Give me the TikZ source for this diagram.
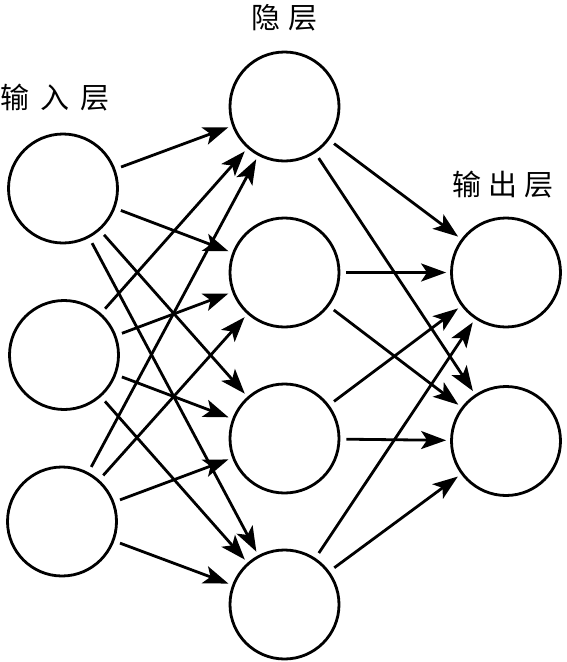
\documentclass[tikz,border=0pt]{standalone}
\usepackage{fontspec}
\newfontfamily\cjk{Noto Sans CJK SC}
\usetikzlibrary{arrows.meta}
\begin{document}
\begin{tikzpicture}[x=1pt,y=-1pt,
  neuron/.style={draw,circle,minimum size=109pt,inner sep=0pt,line width=2.8pt},
  conn/.style={line width=2.8pt,-{Stealth[length=25pt,width=18pt,inset=6pt]},shorten <=6pt,shorten >=4pt},
  lbl/.style={font=\cjk\fontsize{29}{29}\selectfont,inner sep=0pt}]
\useasboundingbox (0,0) rectangle (566,662);
\node[neuron] (i1) at (63,188.5) {};
\node[neuron] (i2) at (64,355) {};
\node[neuron] (i3) at (62,521.5) {};
\node[neuron] (h1) at (284.5,106.5) {};
\node[neuron] (h2) at (284.5,272.5) {};
\node[neuron] (h3) at (284.5,438.5) {};
\node[neuron] (h4) at (284.5,604.5) {};
\node[neuron] (o1) at (506,272.5) {};
\node[neuron] (o2) at (506,441) {};
\node[lbl] (t1) at (55,98) {输\hspace{11pt}入\hspace{11pt}层};
\node[lbl] (t2) at (284.5,18) {隐\hspace{9pt}层};
\node[lbl] (t3) at (503,185) {输\hspace{7pt}出\hspace{7pt}层};
\foreach \a in {i1,i2,i3}
  \foreach \b in {h1,h2,h3,h4}
    \draw[conn] (\a) -- (\b);
\foreach \a in {h1,h2,h3,h4}
  \foreach \b in {o1,o2}
    \draw[conn] (\a) -- (\b);
\end{tikzpicture}
\end{document}
